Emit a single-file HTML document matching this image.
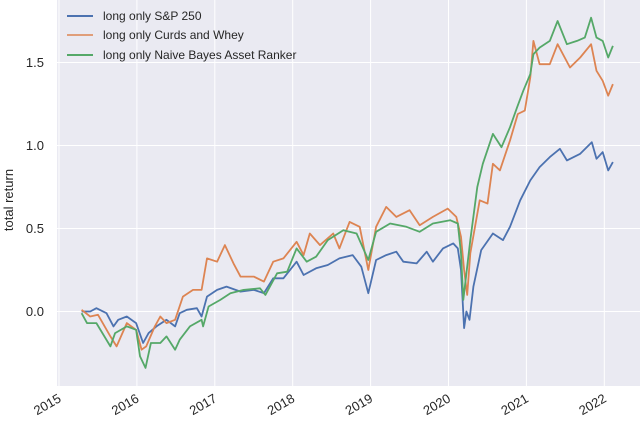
<!DOCTYPE html>
<html><head><meta charset="utf-8"><style>
body{margin:0;background:#fff;}
svg{display:block;font-family:"Liberation Sans","DejaVu Sans",sans-serif;}
</style></head><body>
<svg id="chart" width="640" height="427" viewBox="0 0 640 427">
<rect x="57" y="0" width="583" height="386" fill="#EAEAF2"/>
<g id="grid"></g><g id="series"></g><g id="axes"></g>
<text transform="translate(13,200) rotate(-90)" text-anchor="middle" font-size="13" fill="#262626">total return</text>
<g>
<line x1="67" y1="16" x2="93" y2="16" stroke="#4C72B0" stroke-width="2"/>
<text x="103" y="20" font-size="12" fill="#262626">long only S&amp;P 250</text>
<line x1="67" y1="35" x2="93" y2="35" stroke="#DD8452" stroke-width="1.5"/>
<text x="103" y="39" font-size="12" fill="#262626">long only Curds and Whey</text>
<line x1="67" y1="55" x2="93" y2="55" stroke="#55A868" stroke-width="2"/>
<text x="103" y="59" font-size="12" fill="#262626">long only Naive Bayes Asset Ranker</text>
</g>
</svg>
<script>
const yTicks=[0.0,0.5,1.0,1.5];
const yTickLabels=["0.0","0.5","1.0","1.5"];
const xTicks=[2015,2016,2017,2018,2019,2020,2021,2022];
const xTickLabels=["2015","2016","2017","2018","2019","2020","2021","2022"];
const blueT=[2015.29,2015.4,2015.48,2015.61,2015.7,2015.76,2015.87,2015.99,2016.08,2016.15,2016.25,2016.38,2016.49,2016.55,2016.64,2016.77,2016.83,2016.9,2017.03,2017.15,2017.33,2017.5,2017.63,2017.75,2017.88,2018.05,2018.14,2018.3,2018.45,2018.6,2018.77,2018.88,2018.97,2019.07,2019.2,2019.33,2019.42,2019.59,2019.72,2019.8,2019.93,2020.06,2020.12,2020.16,2020.2,2020.23,2020.27,2020.32,2020.42,2020.57,2020.7,2020.79,2020.92,2021.05,2021.17,2021.3,2021.43,2021.52,2021.69,2021.84,2021.9,2021.98,2022.05,2022.11];
const blueV=[0.0,0.0,0.02,-0.01,-0.09,-0.05,-0.03,-0.07,-0.19,-0.13,-0.09,-0.05,-0.09,-0.01,0.01,0.02,-0.03,0.09,0.13,0.15,0.12,0.13,0.11,0.2,0.2,0.3,0.22,0.26,0.28,0.32,0.34,0.27,0.11,0.31,0.34,0.36,0.3,0.29,0.36,0.3,0.38,0.41,0.38,0.25,-0.1,0.0,-0.05,0.15,0.37,0.47,0.43,0.51,0.67,0.79,0.87,0.93,0.98,0.91,0.95,1.02,0.92,0.96,0.85,0.9];
const orangeT=[2015.29,2015.4,2015.5,2015.66,2015.74,2015.87,2015.99,2016.06,2016.12,2016.23,2016.3,2016.38,2016.49,2016.59,2016.72,2016.83,2016.9,2017.03,2017.13,2017.24,2017.33,2017.5,2017.63,2017.75,2017.88,2018.05,2018.14,2018.22,2018.35,2018.52,2018.6,2018.73,2018.86,2018.97,2019.07,2019.2,2019.33,2019.5,2019.63,2019.8,2019.99,2020.1,2020.16,2020.2,2020.24,2020.28,2020.4,2020.5,2020.57,2020.66,2020.79,2020.89,2020.98,2021.05,2021.09,2021.17,2021.3,2021.4,2021.56,2021.69,2021.83,2021.9,2021.98,2022.05,2022.11];
const orangeV=[0.01,-0.03,-0.02,-0.15,-0.21,-0.07,-0.11,-0.23,-0.21,-0.09,-0.03,-0.07,-0.05,0.09,0.13,0.13,0.32,0.3,0.4,0.29,0.21,0.21,0.18,0.3,0.32,0.42,0.34,0.47,0.4,0.47,0.38,0.54,0.51,0.25,0.51,0.63,0.57,0.61,0.52,0.57,0.62,0.57,0.45,0.25,0.1,0.35,0.67,0.65,0.89,0.85,1.03,1.19,1.21,1.41,1.63,1.49,1.49,1.61,1.47,1.53,1.61,1.45,1.39,1.3,1.37];
const greenT=[2015.29,2015.36,2015.48,2015.66,2015.72,2015.87,2015.99,2016.04,2016.11,2016.18,2016.3,2016.38,2016.49,2016.55,2016.68,2016.83,2016.85,2016.92,2017.07,2017.2,2017.37,2017.58,2017.65,2017.8,2017.93,2018.05,2018.18,2018.3,2018.45,2018.65,2018.82,2018.97,2019.07,2019.25,2019.46,2019.63,2019.8,2020.02,2020.12,2020.16,2020.19,2020.28,2020.37,2020.44,2020.57,2020.68,2020.79,2020.88,2020.96,2021.05,2021.09,2021.17,2021.3,2021.4,2021.52,2021.65,2021.75,2021.83,2021.9,2021.98,2022.05,2022.11];
const greenV=[-0.01,-0.07,-0.07,-0.21,-0.13,-0.09,-0.11,-0.27,-0.34,-0.19,-0.19,-0.15,-0.23,-0.17,-0.09,-0.05,-0.09,0.03,0.07,0.11,0.13,0.14,0.1,0.23,0.24,0.38,0.3,0.33,0.43,0.49,0.47,0.31,0.48,0.53,0.51,0.48,0.53,0.55,0.53,0.35,0.07,0.43,0.75,0.89,1.07,0.99,1.11,1.23,1.33,1.43,1.55,1.59,1.63,1.75,1.61,1.63,1.65,1.77,1.65,1.63,1.53,1.6];

const X=t=>59+(t-2015)*77.9;
const Y=v=>311.5-v*166;
const NS="http://www.w3.org/2000/svg";
const grid=document.getElementById('grid'),axes=document.getElementById('axes'),ser=document.getElementById('series');
function mk(tag,attrs,parent){const e=document.createElementNS(NS,tag);for(const k in attrs)e.setAttribute(k,attrs[k]);parent.appendChild(e);return e;}
yTicks.forEach((v,i)=>{
  const l=mk('line',{x1:57,x2:640,y1:Y(v),y2:Y(v),stroke:'#fff','stroke-width':1},grid);
  
  
  const t=mk('text',{x:44,y:Y(v)+4.5,'text-anchor':'end','font-size':13,fill:'#262626'},axes);
  t.textContent=yTickLabels[i];
  
  
});
xTicks.forEach((v,i)=>{
  const l=mk('line',{x1:X(v),x2:X(v),y1:0,y2:386,stroke:'#fff','stroke-width':1},grid);
  
  
  const t=mk('text',{transform:`translate(${X(v)+3},${401}) rotate(-30)`,'text-anchor':'end','font-size':13,fill:'#262626'},axes);
  t.textContent=xTickLabels[i];
  
  
});
function line(T,V,color,name){
  const d=T.map((t,i)=>(i?'L':'M')+X(t).toFixed(1)+','+Y(V[i]).toFixed(1)).join('');
  const p=mk('path',{d:d,fill:'none',stroke:color,'stroke-width':1.8,'stroke-linejoin':'round'},ser);
  
  
}
line(blueT,blueV,'#4C72B0','series-sp250');
line(orangeT,orangeV,'#DD8452','series-curds-and-whey');
line(greenT,greenV,'#55A868','series-naive-bayes');
</script>
</body></html>
